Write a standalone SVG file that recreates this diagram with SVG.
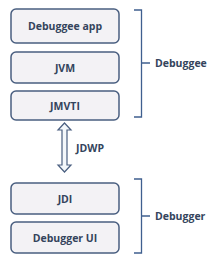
<svg xmlns="http://www.w3.org/2000/svg" width="220" height="266" viewBox="0 0 220 266">
<style>
.box{fill:#f3f2f5;stroke:#4a5f80;stroke-width:1.5}
.t{font-family:"Open Sans","Liberation Sans",sans-serif;font-size:10.5px;font-weight:bold;fill:#34445c;text-anchor:middle}
.l{font-family:"Open Sans","Liberation Sans",sans-serif;font-size:10.5px;font-weight:bold;fill:#34445c}
.br{fill:none;stroke:#3f5f8f;stroke-width:1.3}
</style>
<rect width="220" height="266" fill="#ffffff"/>
<g id="debuggee-app"><rect class="box" x="11" y="9" width="108" height="34" rx="5"/><text class="t" x="65" y="30">Debuggee app</text></g>
<g id="jvm"><rect class="box" x="11" y="52" width="108" height="31" rx="5"/><text class="t" x="65" y="71.5">JVM</text></g>
<g id="jmvti"><rect class="box" x="11" y="91" width="108" height="29" rx="5"/><text class="t" x="65" y="109.5">JMVTI</text></g>
<g id="jdi"><rect class="box" x="11" y="183" width="108" height="31" rx="5"/><text class="t" x="65" y="202.5">JDI</text></g>
<g id="debugger-ui"><rect class="box" x="11" y="222" width="108" height="31" rx="5"/><text class="t" x="65" y="241.5">Debugger UI</text></g>
<g id="connectors">
<path d="M64.5 123 L71 130 L67 130 L67 165 L71 165 L64.5 172 L58 165 L62 165 L62 130 L58 130 Z" fill="#f4f8fb" stroke="#4a5f80" stroke-width="1.2" stroke-linejoin="miter"/>
<text class="l" x="76" y="152">JDWP</text>
</g>
<g id="debuggee-bracket"><path class="br" d="M134 10 H141.5 V117 H134 M141.5 63 H150"/><text class="l" x="155" y="67">Debuggee</text></g>
<g id="debugger-bracket"><path class="br" d="M134 179 H141.5 V253 H134 M141.5 216 H150"/><text class="l" x="155" y="220">Debugger</text></g>
</svg>
